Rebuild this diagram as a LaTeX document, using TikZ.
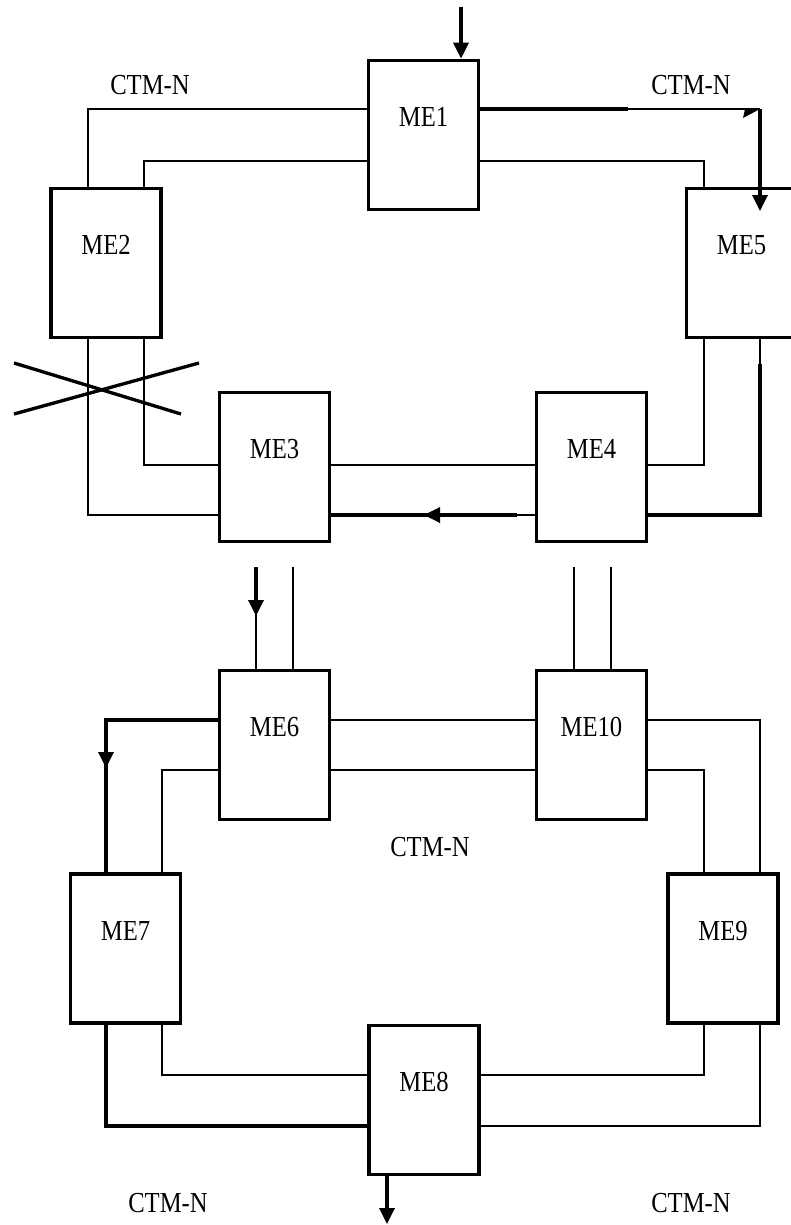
\documentclass[tikz,border=0pt]{standalone}
\usepackage{fontspec}
\setmainfont{Liberation Serif}[FakeStretch=0.85]
\usetikzlibrary{arrows.meta}

\begin{document}
\begin{tikzpicture}[
  x=0.02cm, y=-0.02cm,
  font=\fontsize{16.5}{18}\selectfont,
  me/.style={rectangle, draw, line width=2.1pt, inner sep=0pt,
             minimum width=2.2cm, minimum height=2.98cm,
             text height=0.4cm, text depth=0.73cm, align=center},
  lbl/.style={inner sep=1pt},
  ln/.style={line width=0.7pt},
  bold/.style={line width=1.9pt},
  arr/.style={-{Triangle[length=0.32cm, width=0.3cm]}, line width=1.9pt}
]
\path[use as bounding box] (0,0) rectangle (791,1225);
\clip (0,0) rectangle (791,1225);
%% boxes (upper ring, lower ring)
\node[me] (me1)  at (423.5,135)   {ME1};
\node[me] (me2)  at (106,263)     {ME2};
\node[me] (me5)  at (741.5,263)   {ME5};
\node[me] (me3)  at (274.5,467)   {ME3};
\node[me] (me4)  at (591.5,467)   {ME4};
\node[me] (me6)  at (274.5,745)   {ME6};
\node[me] (me10) at (591.5,745)   {ME10};
\node[me] (me7)  at (125.5,948.5) {ME7};
\node[me] (me9)  at (723,948.5)   {ME9};
\node[me] (me8)  at (424,1100)    {ME8};
%% ring labels
\node[lbl] (ctm_tl) at (150,85)   {CTM-N};
\node[lbl] (ctm_tr) at (691,85)   {CTM-N};
\node[lbl] (ctm_c)  at (430,847)  {CTM-N};
\node[lbl] (ctm_bl) at (168,1203) {CTM-N};
\node[lbl] (ctm_br) at (691,1203) {CTM-N};
%% corner points of the ring lines
\coordinate (t_lo) at (88,109);
\coordinate (t_li) at (144,161);
\coordinate (t_ro) at (760,109);
\coordinate (t_ri) at (704,161);
\coordinate (m_li) at (144,465);
\coordinate (m_lo) at (88,515);
\coordinate (m_ri) at (704,465);
\coordinate (m_ro) at (760,515);
\coordinate (b_lo) at (106,720);
\coordinate (b_li) at (162,770);
\coordinate (b_ro) at (760,720);
\coordinate (b_ri) at (704,770);
\coordinate (l_li) at (162,1075);
\coordinate (l_lo) at (106,1126);
\coordinate (l_ri) at (704,1075);
\coordinate (l_ro) at (760,1126);
%% free ends and line breaks
\coordinate (in1)    at (461,7);
\coordinate (out8)   at (387,1224);
\coordinate (l_mid)  at (219,109);
\coordinate (r_mid)  at (628,109);
\coordinate (r_tip)  at (760,211);
\coordinate (r_bold) at (760,364);
\coordinate (m_arr)  at (517,515);
\coordinate (m_tip)  at (424,515);
\coordinate (s1)     at (256,567);
\coordinate (s2)     at (293,567);
\coordinate (s3)     at (574,567);
\coordinate (s4)     at (611,567);
\coordinate (s1_tip) at (256,616);
\coordinate (b_tip)  at (106,768);
%% upper ring, top part
\draw[arr] (in1) -- (me1.north -| in1);
\draw[ln] (me1.west |- t_lo) -- (t_lo) -- (me2.north -| t_lo);
\draw[line width=1.1pt] (me1.west |- t_lo) -- (l_mid);
\draw[ln] (me1.west |- t_li) -- (t_li) -- (me2.north -| t_li);
\draw[bold] (me1.east |- t_ro) -- (r_mid);
\draw[ln] (r_mid) -- (t_ro);
\fill (t_ro) -- ++(-17,9) -- ++(2,-9) -- cycle;
\draw[arr] (t_ro) -- (r_tip);
\draw[ln] (me1.east |- t_ri) -- (t_ri) -- (me5.north -| t_ri);
%% upper ring, bottom part
\draw[ln] (me2.south -| m_li) -- (m_li) -- (me3.west |- m_li);
\draw[ln] (me2.south -| m_lo) -- (m_lo) -- (me3.west |- m_lo);
\draw[ln] (me3.east |- m_li) -- (me4.west |- m_li);
\draw[ln] (me4.west |- m_lo) -- (m_arr);
\draw[bold] (m_arr) -- (me3.east |- m_lo);
\draw[arr] (m_arr) -- (m_tip);
\draw[ln] (me5.south -| m_ri) -- (m_ri) -- (me4.east |- m_ri);
\draw[ln] (me5.south -| m_ro) -- (r_bold);
\draw[bold] (r_bold) -- (m_ro) -- (me4.east |- m_ro);
%% broken link
\draw[bold] (14,363) -- (181,414);
\draw[bold] (14,414) -- (199,363);
%% links between the rings
\draw[ln] (s1) -- (me6.north -| s1);
\draw[arr] (s1) -- (s1_tip);
\draw[ln] (s2) -- (me6.north -| s2);
\draw[ln] (s3) -- (me10.north -| s3);
\draw[ln] (s4) -- (me10.north -| s4);
%% lower ring
\draw[bold] (me6.west |- b_lo) -- (b_lo) -- (me7.north -| b_lo);
\draw[arr] (b_lo) -- (b_tip);
\draw[ln] (me6.west |- b_li) -- (b_li) -- (me7.north -| b_li);
\draw[ln] (me6.east |- b_lo) -- (me10.west |- b_lo);
\draw[ln] (me6.east |- b_li) -- (me10.west |- b_li);
\draw[ln] (me10.east |- b_ro) -- (b_ro) -- (me9.north -| b_ro);
\draw[ln] (me10.east |- b_ri) -- (b_ri) -- (me9.north -| b_ri);
\draw[ln] (me7.south -| l_li) -- (l_li) -- (me8.west |- l_li);
\draw[bold] (me7.south -| l_lo) -- (l_lo) -- (me8.west |- l_lo);
\draw[ln] (me9.south -| l_ri) -- (l_ri) -- (me8.east |- l_ri);
\draw[ln] (me9.south -| l_ro) -- (l_ro) -- (me8.east |- l_ro);
\draw[arr] (me8.south -| out8) -- (out8);
\end{tikzpicture}
\end{document}
